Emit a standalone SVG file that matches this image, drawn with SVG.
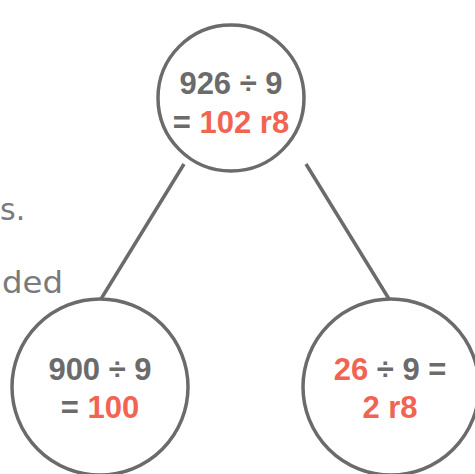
<svg xmlns="http://www.w3.org/2000/svg" width="475" height="474" viewBox="0 0 475 474">
<style>
.c{fill:#fff;stroke:#6b6b6b;stroke-width:3.5}
.l{stroke:#6b6b6b;stroke-width:3.5;fill:none}
.t{font-family:"Liberation Sans",Arial,sans-serif;font-weight:bold;font-size:31px;fill:#6b6b6b;text-anchor:middle}
.r{fill:#f26452}
.s{font-family:"DejaVu Sans","Liberation Sans",sans-serif;font-size:30px;fill:#7a7a7a}
</style>
<rect width="475" height="474" fill="#fff"/>
<text class="s" x="0" y="220">s.</text>
<text class="s" x="2" y="293" textLength="61" lengthAdjust="spacingAndGlyphs">ded</text>
<g id="connectors">
<line class="l" x1="184" y1="164" x2="101" y2="299"/>
<line class="l" x1="306" y1="164" x2="389" y2="299"/>
</g>
<g id="top">
<circle class="c" cx="231" cy="98" r="73"/>
<text class="t" x="231" y="94">926 ÷ 9</text>
<text class="t" x="231" y="133">= <tspan class="r">102 r8</tspan></text>
</g>
<g id="left">
<circle class="c" cx="100" cy="387" r="88"/>
<text class="t" x="100" y="380">900 ÷ 9</text>
<text class="t" x="100" y="418">= <tspan class="r">100</tspan></text>
</g>
<g id="right">
<circle class="c" cx="391" cy="387" r="88"/>
<text class="t" x="390" y="380"><tspan class="r">26</tspan> ÷ 9 =</text>
<text class="t r" x="390" y="418">2 r8</text>
</g>
</svg>
